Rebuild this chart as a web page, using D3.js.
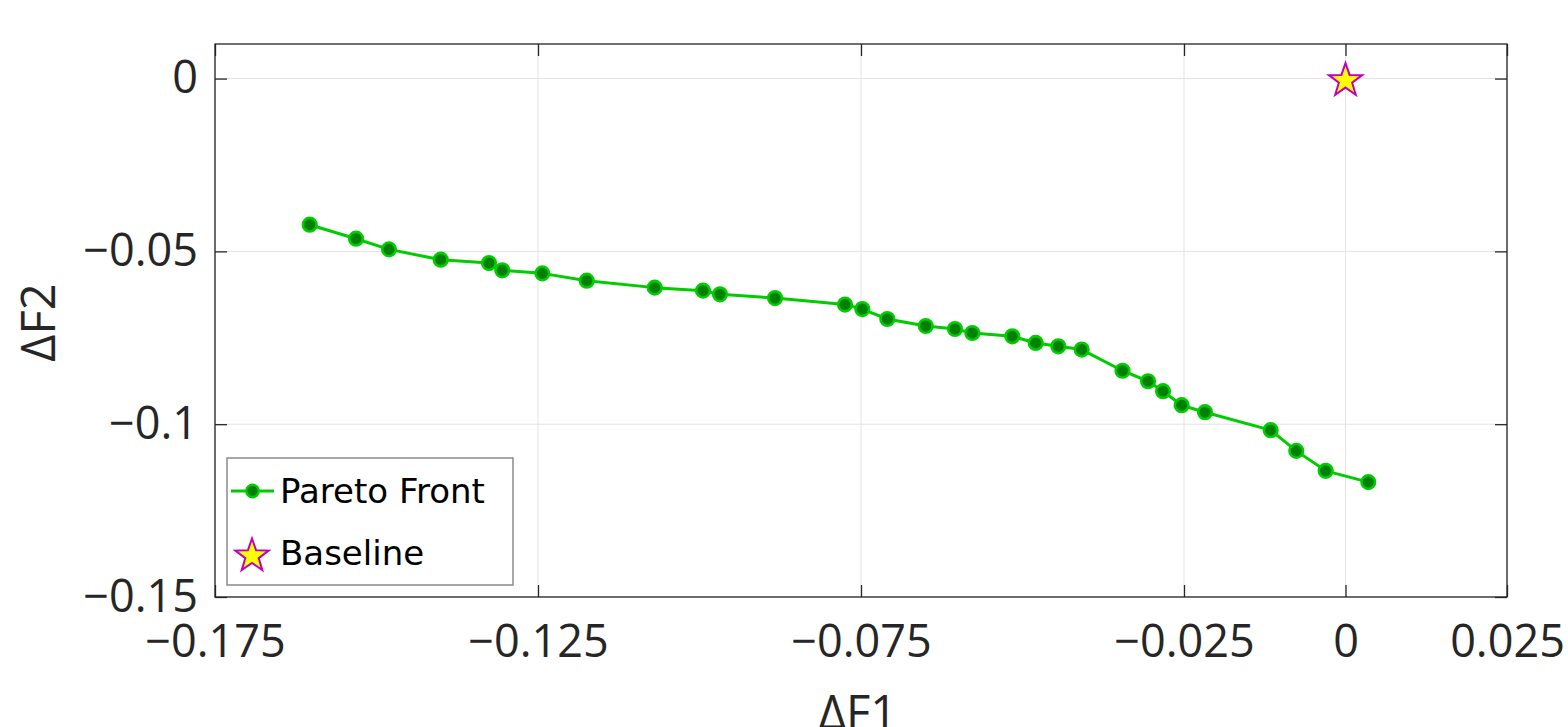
<!DOCTYPE html>
<html>
<head>
<meta charset="utf-8">
<script src="https://cdn.jsdelivr.net/npm/d3@7"></script>
<style>
  html, body { margin: 0; padding: 0; background: #ffffff; }
  svg { display: block; }
</style>
</head>
<body>
<svg id="chart" width="1568" height="727"></svg>
<script>
// ---- data ----
const paretoF1 = [-0.16034, -0.15317, -0.14807, -0.14006, -0.13259, -0.13053, -0.12433, -0.11746,
  -0.10693, -0.09946, -0.09683, -0.08831, -0.07748, -0.07480, -0.07093, -0.06498, -0.06045,
  -0.05777, -0.05158, -0.04796, -0.04446, -0.04084, -0.03452, -0.03057, -0.02825, -0.02536,
  -0.02175, -0.01158, -0.00762, -0.00307, 0.00353];
const paretoF2 = [-0.04228, -0.04633, -0.04942, -0.05240, -0.05338, -0.05549, -0.05636, -0.05847,
  -0.06049, -0.06136, -0.06243, -0.06350, -0.06540, -0.06668, -0.06957, -0.07159, -0.07246,
  -0.07361, -0.07457, -0.07650, -0.07746, -0.07841, -0.08454, -0.08757, -0.09046, -0.09451,
  -0.09653, -0.10173, -0.10772, -0.11350, -0.11676];
const baselineF1 = [0];
const baselineF2 = [0];
const xTickValues = [-0.175, -0.125, -0.075, -0.025, 0, 0.025];
const xTickLabels = ["\u22120.175", "\u22120.125", "\u22120.075", "\u22120.025", "0", "0.025"];
const yTickValues = [-0.15, -0.1, -0.05, 0];
const yTickLabels = ["\u22120.15", "\u22120.1", "\u22120.05", "0"];
const xDomain = [-0.175, 0.025];
const yDomain = [-0.15, 0.01];
const xLabel = "\u0394F1";
const yLabel = "\u0394F2";
const legendNames = ["Pareto Front", "Baseline"];

// ---- layout ----
const L = 215, R = 1507, T = 44, B = 597;
const svg = d3.select("#chart");
const x = d3.scaleLinear().domain(xDomain).range([L, R]);
const y = d3.scaleLinear().domain(yDomain).range([B, T]);

const axisColor = "#262626";
const tickFont = "'Open Sans', 'DejaVu Sans', sans-serif";

// grid
const grid = svg.append("g").attr("stroke", "#e3e3e3").attr("stroke-width", 1);
grid.selectAll("line.gx").data(xTickValues).join("line")
  .attr("x1", d => x(d)).attr("x2", d => x(d)).attr("y1", T).attr("y2", B);
grid.selectAll("line.gy").data(yTickValues).join("line")
  .attr("y1", d => y(d)).attr("y2", d => y(d)).attr("x1", L).attr("x2", R);

// axes
function styleAxis(g) {
  g.select(".domain").remove();
  g.selectAll(".tick line").attr("stroke", axisColor).attr("stroke-width", 1.3);
  g.selectAll(".tick text").attr("fill", axisColor)
    .style("font-family", tickFont).style("font-size", "45px");
}
svg.append("g").attr("transform", `translate(0,${B})`)
  .call(d3.axisBottom(x).tickValues(xTickValues).tickSizeInner(-12).tickSizeOuter(0).tickPadding(28)
    .tickFormat((d, i) => xTickLabels[i]))
  .call(styleAxis);
svg.append("g").attr("transform", `translate(0,${T})`)
  .call(d3.axisTop(x).tickValues(xTickValues).tickSizeInner(-12).tickSizeOuter(0).tickFormat(""))
  .call(styleAxis);
svg.append("g").attr("transform", `translate(${L},0)`)
  .call(d3.axisLeft(y).tickValues(yTickValues).tickSizeInner(-12).tickSizeOuter(0).tickPadding(17)
    .tickFormat((d, i) => yTickLabels[i]))
  .call(styleAxis);
svg.append("g").attr("transform", `translate(${R},0)`)
  .call(d3.axisRight(y).tickValues(yTickValues).tickSizeInner(-12).tickSizeOuter(0).tickFormat(""))
  .call(styleAxis);

// box
svg.append("rect").attr("x", L).attr("y", T).attr("width", R - L).attr("height", B - T)
  .attr("fill", "none").attr("stroke", axisColor).attr("stroke-width", 1.3);

// axis labels
svg.append("text").attr("x", (L + R) / 2 - 3).attr("y", 729).attr("text-anchor", "middle")
  .attr("fill", axisColor).style("font-family", tickFont).style("font-size", "47px").text(xLabel);
svg.append("text").attr("transform", `translate(55,${(T + B) / 2 + 2}) rotate(-90)`)
  .attr("text-anchor", "middle")
  .attr("fill", axisColor).style("font-family", tickFont).style("font-size", "47px").text(yLabel);

// data
const pts = paretoF1.map((v, i) => [v, paretoF2[i]]);
const lineColor = "#00cc00", faceColor = "#008000";
svg.append("path").datum(pts)
  .attr("d", d3.line().x(d => x(d[0])).y(d => y(d[1])))
  .attr("fill", "none").attr("stroke", lineColor).attr("stroke-width", 3).attr("stroke-linejoin", "round");
svg.append("g").selectAll("circle").data(pts).join("circle")
  .attr("cx", d => x(d[0])).attr("cy", d => y(d[1])).attr("r", 6.8)
  .attr("fill", faceColor).attr("stroke", lineColor).attr("stroke-width", 2.6);

// star
const starPath = d3.lineRadial().curve(d3.curveLinearClosed)
  .angle((d, i) => i * Math.PI / 5)
  .radius((d, i) => i % 2 === 0 ? d : d * 0.4);
function star(rOuter) { return starPath(d3.range(10).map(() => rOuter)); }
const starFill = "#ffff00", starStroke = "#bf00bf";
svg.append("g").selectAll("path").data(baselineF1.map((v, i) => [v, baselineF2[i]])).join("path")
  .attr("transform", d => `translate(${x(d[0])},${y(d[1]) + 2})`)
  .attr("d", star(17.5))
  .attr("fill", starFill).attr("stroke", starStroke).attr("stroke-width", 2).attr("stroke-linejoin", "miter");

// legend
const lg = svg.append("g");
lg.append("rect").attr("x", 227).attr("y", 458).attr("width", 286).attr("height", 127)
  .attr("fill", "#ffffff").attr("stroke", "#8a8a8a").attr("stroke-width", 1.5);
lg.append("line").attr("x1", 231).attr("x2", 274).attr("y1", 491).attr("y2", 491)
  .attr("stroke", lineColor).attr("stroke-width", 3);
lg.append("circle").attr("cx", 252.5).attr("cy", 491).attr("r", 6.2)
  .attr("fill", faceColor).attr("stroke", lineColor).attr("stroke-width", 2.4);
lg.append("path").attr("transform", "translate(252,556)").attr("d", star(17.5))
  .attr("fill", starFill).attr("stroke", starStroke).attr("stroke-width", 2);
const legFont = "'DejaVu Sans', sans-serif";
lg.selectAll("text").data(legendNames).join("text")
  .attr("x", 280).attr("y", (d, i) => i === 0 ? 503 : 565)
  .attr("fill", "#000000").style("font-family", legFont).style("font-size", "34px").text(d => d);
</script>
</body>
</html>
